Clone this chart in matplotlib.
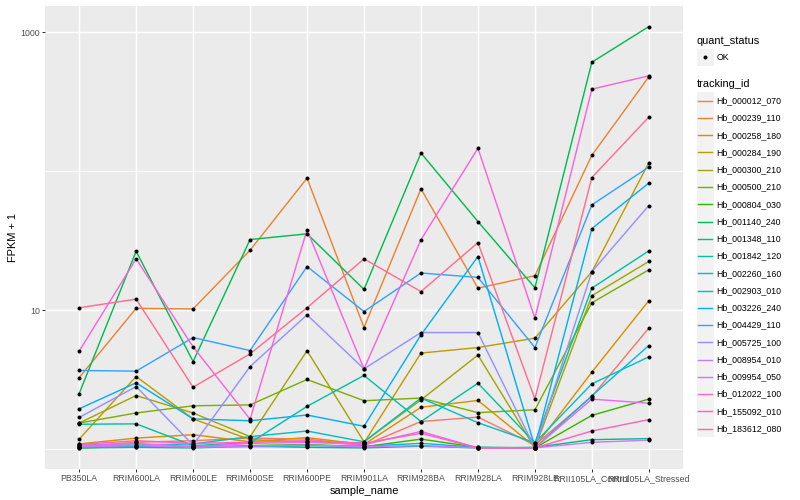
import matplotlib
matplotlib.use("Agg")
import matplotlib.pyplot as plt
import numpy as np
from matplotlib.patches import Rectangle
from matplotlib.ticker import FixedLocator, NullFormatter

plt.rcParams['font.family'] = ['Liberation Sans', 'DejaVu Sans']

samples = ["PB350LA", "RRIM600LA", "RRIM600LE", "RRIM600SE", "RRIM600PE",
           "RRIM901LA", "RRIM928BA", "RRIM928LA", "RRIM928LE",
           "RRII105LA_Control", "RRII105LA_Stressed"]

tracking_ids = ["Hb_000012_070", "Hb_000239_110", "Hb_000258_180", "Hb_000284_190",
                "Hb_000300_210", "Hb_000500_210", "Hb_000804_030", "Hb_001140_240",
                "Hb_001348_110", "Hb_001842_120", "Hb_002260_160", "Hb_002903_010",
                "Hb_003226_240", "Hb_004429_110", "Hb_005725_100", "Hb_008954_010",
                "Hb_009954_050", "Hb_012022_100", "Hb_155092_010", "Hb_183612_080"]

# FPKM + 1 per sample (same order as samples)
hb_000012_070 = [1.05, 1.12, 1.15, 1.20, 1.18, 1.06, 1.58, 1.70, 1.07, 2.39, 7.42]
hb_000239_110 = [3.27, 10.3, 10.2, 27.0, 89.0, 7.50, 74.6, 14.4, 17.7, 130, 477]
hb_000258_180 = [1.09, 1.20, 1.27, 1.13, 1.21, 1.08, 2.00, 2.24, 1.04, 3.58, 11.7]
hb_000284_190 = [1.18, 3.33, 1.65, 1.17, 1.13, 1.11, 4.91, 5.38, 6.29, 18.9, 115]
hb_000300_210 = [1.54, 2.43, 1.82, 1.23, 5.10, 1.13, 2.26, 4.75, 1.02, 12.7, 22.4]
hb_000500_210 = [1.54, 1.82, 2.05, 2.08, 3.17, 2.23, 2.33, 1.83, 1.92, 11.3, 19.5]
hb_000804_030 = [1.02, 1.05, 1.03, 1.06, 1.08, 1.04, 1.18, 1.03, 1.02, 1.75, 2.29]
hb_001140_240 = [2.51, 26.5, 4.27, 32.2, 35.4, 14.1, 135, 43.4, 14.5, 608, 1097]
hb_001348_110 = [1.02, 1.03, 1.02, 1.05, 1.03, 1.02, 1.05, 1.02, 1.03, 1.17, 1.19]
hb_001842_120 = [1.51, 1.52, 1.06, 1.11, 2.03, 3.39, 1.58, 2.98, 1.11, 14.4, 26.7]
hb_002260_160 = [1.07, 1.07, 1.09, 1.23, 1.35, 1.13, 2.33, 1.55, 1.11, 2.95, 4.61]
hb_002903_010 = [1.03, 1.04, 1.05, 1.04, 1.06, 1.05, 1.10, 1.03, 1.02, 2.42, 5.56]
hb_003226_240 = [1.95, 3.00, 1.65, 1.60, 1.76, 1.46, 6.64, 24.3, 1.04, 38.6, 82.0]
hb_004429_110 = [3.68, 3.64, 6.35, 5.12, 20.6, 9.77, 18.5, 17.2, 5.38, 57.2, 107]
hb_005725_100 = [1.69, 2.82, 1.07, 3.93, 9.25, 3.78, 6.90, 6.90, 1.02, 18.9, 56.6]
hb_008954_010 = [1.04, 1.06, 1.03, 1.05, 1.07, 1.04, 1.06, 1.02, 1.02, 1.12, 1.16]
hb_009954_050 = [1.06, 1.10, 1.04, 1.10, 1.12, 1.08, 1.34, 1.02, 1.02, 2.29, 2.14]
hb_012022_100 = [5.07, 23.4, 5.44, 1.64, 37.8, 3.78, 32.1, 146, 8.76, 389, 485]
hb_155092_010 = [1.08, 1.15, 1.10, 1.12, 1.15, 1.10, 1.30, 1.02, 1.02, 1.35, 1.63]
hb_183612_080 = [10.4, 12.0, 2.79, 4.85, 10.4, 23.4, 13.6, 30.6, 2.30, 90.0, 245]

series = [hb_000012_070, hb_000239_110, hb_000258_180, hb_000284_190, hb_000300_210,
          hb_000500_210, hb_000804_030, hb_001140_240, hb_001348_110, hb_001842_120,
          hb_002260_160, hb_002903_010, hb_003226_240, hb_004429_110, hb_005725_100,
          hb_008954_010, hb_009954_050, hb_012022_100, hb_155092_010, hb_183612_080]

colors = ["#F8766D", "#EA8331", "#D89000", "#C09B00", "#A3A500", "#7CAE00", "#39B600",
          "#00BB4E", "#00BF7D", "#00C1A3", "#00BFC4", "#00BAE0", "#00B0F6", "#35A2FF",
          "#9590FF", "#C77CFF", "#E76BF3", "#FA62DB", "#FF62BC", "#FF6C91"]

W, H = 800, 500
fig = plt.figure(figsize=(8, 5), dpi=100)
px = 72 / 100.0  # points per pixel

L, R, T, B = 45, 683, 5.5, 469
ax = fig.add_axes([L / W, 1 - B / H, (R - L) / W, (B - T) / H])
ax.set_facecolor("#EBEBEB")
for s in ax.spines.values():
    s.set_visible(False)

x = np.arange(len(samples))
for vals, c in zip(series, colors):
    ax.plot(x, vals, color=c, lw=1.42 * px, zorder=3, solid_capstyle='butt')
for vals in series:
    ax.plot(x, vals, 'o', color='black', ms=4.0 * px, mew=0, zorder=4)

ax.set_yscale('log')
allv = np.concatenate([np.asarray(v) for v in series])
lo, hi = np.log10(allv.min()), np.log10(allv.max())
pad = 0.05 * (hi - lo)
ax.set_ylim(10 ** (lo - pad), 10 ** (hi + pad))
ax.set_xlim(-0.6, len(samples) - 1 + 0.6)

ax.yaxis.set_major_locator(FixedLocator([10, 1000]))
ax.set_yticklabels(["10", "1000"])
ax.yaxis.set_minor_locator(FixedLocator([1, 100]))
ax.yaxis.set_minor_formatter(NullFormatter())
ax.set_xticks(x)
ax.set_xticklabels(samples)

ax.grid(which='major', color='white', lw=1.42 * px, zorder=1)
ax.grid(which='minor', axis='y', color='white', lw=0.71 * px, zorder=1)
ax.set_axisbelow(True)

ax.tick_params(which='major', length=2.75 * px, width=1.0 * px, color='#333333',
               labelsize=8.8 * px, labelcolor='#4D4D4D', pad=2.2 * px)
ax.tick_params(which='minor', length=0)

ax.set_xlabel("sample_name", fontsize=11 * px, labelpad=2.75 * px, color='black')
ax.set_ylabel("FPKM + 1", fontsize=11 * px, labelpad=2.75 * px, color='black')

# legend drawn in pixel coordinates
lg = fig.add_axes([0, 0, 1, 1], facecolor='none')
lg.set_xlim(0, W)
lg.set_ylim(H, 0)
lg.axis('off')

kx0, kw = 696.7, 17.28
lg.text(kx0, 40.7, "quant_status", fontsize=11 * px, va='center', ha='left')
lg.add_patch(Rectangle((kx0, 57.3 - kw / 2), kw, kw, facecolor='#F2F2F2', edgecolor='none'))
lg.plot([kx0 + kw / 2], [57.3], 'o', color='black', ms=4.0 * px, mew=0)
lg.text(kx0 + kw + 2.2, 57.3, "OK", fontsize=8.8 * px, va='center', ha='left')

lg.text(kx0, 84.3, "tracking_id", fontsize=11 * px, va='center', ha='left')
y0, dy = 100.7, 17.26
for i, (name, c) in enumerate(zip(tracking_ids, colors)):
    yc = y0 + dy * i
    lg.add_patch(Rectangle((kx0, yc - kw / 2), kw, kw, facecolor='#F2F2F2', edgecolor='none'))
    lg.plot([kx0 + 0.1 * kw, kx0 + 0.9 * kw], [yc, yc], color=c, lw=1.42 * px)
    lg.text(kx0 + kw + 2.2, yc, name, fontsize=8.8 * px, va='center', ha='left')

fig.savefig("out.png", dpi=100)
